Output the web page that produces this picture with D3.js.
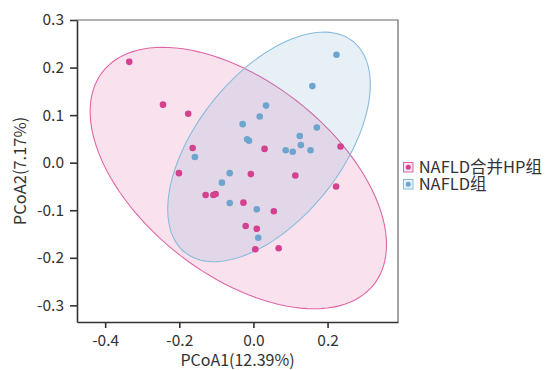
<!DOCTYPE html>
<html>
<head>
<meta charset="utf-8">
<script src="https://cdn.jsdelivr.net/npm/d3@7"></script>
<style>
  html, body { margin: 0; padding: 0; background: #fff; }
  svg { display: block; font-family: "Noto Sans CJK SC", "Noto Sans", sans-serif; }
</style>
</head>
<body>
<svg id="chart" width="550" height="370"></svg>
<script>
// PCoA scores per sample (PCoA1, PCoA2)
const groupNames = ["NAFLD合并HP组", "NAFLD组"];

const hpX = [-0.335, -0.244, -0.176, -0.164, 0.030, 0.235, -0.201, -0.007, 0.113, 0.223,
             -0.129, -0.108, -0.102, -0.027, 0.055, -0.021, 0.009, 0.005, 0.068];
const hpY = [0.212, 0.122, 0.103, 0.031, 0.029, 0.034, -0.022, -0.024, -0.027, -0.050,
             -0.068, -0.068, -0.066, -0.084, -0.102, -0.133, -0.139, -0.182, -0.180];

const nafldX = [0.224, 0.159, 0.034, 0.017, -0.029, 0.171, 0.125, -0.017, -0.012, 0.128,
                0.087, 0.106, 0.154, -0.158, -0.064, -0.085, -0.064, 0.009, 0.013];
const nafldY = [0.227, 0.161, 0.120, 0.097, 0.081, 0.074, 0.056, 0.049, 0.046, 0.037,
                0.026, 0.023, 0.026, 0.012, -0.022, -0.042, -0.085, -0.098, -0.158];

const xTickValues = [-0.4, -0.2, 0.0, 0.2];
const xTickLabels = ["-0.4", "-0.2", "0.0", "0.2"];
const yTickValues = [0.3, 0.2, 0.1, 0.0, -0.1, -0.2, -0.3];
const yTickLabels = ["0.3", "0.2", "0.1", "0.0", "-0.1", "-0.2", "-0.3"];

const xTitle = "PCoA1(12.39%)";
const yTitle = "PCoA2(7.17%)";

const confLevel = 0.95;

// ---- layout ----
const svg = d3.select("#chart");
const plot = { left: 77, right: 398, top: 20, bottom: 322 };

const x = d3.scaleLinear().domain([-0.476, 0.39]).range([plot.left, plot.right]);
const y = d3.scaleLinear().domain([-0.335, 0.30]).range([plot.bottom, plot.top]);

const groups = [
  { name: groupNames[0], xs: hpX, ys: hpY, point: "#d4428f", stroke: "#de66a6", fill: "rgb(220,80,150)" },
  { name: groupNames[1], xs: nafldX, ys: nafldY, point: "#6ea5cf", stroke: "#88bcdb", fill: "rgb(110,165,205)" }
];

// Confidence ellipse from sample mean/covariance, radius sqrt(2 * F(level; 2, n-1))
function ellipsePoints(xs, ys, level, segments) {
  const n = xs.length;
  const mx = d3.mean(xs), my = d3.mean(ys);
  let sxx = 0, syy = 0, sxy = 0;
  for (let i = 0; i < n; i++) {
    const dx = xs[i] - mx, dy = ys[i] - my;
    sxx += dx * dx; syy += dy * dy; sxy += dx * dy;
  }
  sxx /= (n - 1); syy /= (n - 1); sxy /= (n - 1);
  const d2 = n - 1;
  const fq = (d2 / 2) * (Math.pow(1 - level, -2 / d2) - 1); // F quantile with 2 numerator df
  const radius = Math.sqrt(2 * fq);
  // eigen decomposition of the 2x2 covariance
  const tr = sxx + syy, det = sxx * syy - sxy * sxy;
  const disc = Math.sqrt(Math.max(tr * tr / 4 - det, 0));
  const l1 = tr / 2 + disc, l2 = tr / 2 - disc;
  const theta = Math.atan2(l1 - sxx, sxy);
  const a = radius * Math.sqrt(l1), b = radius * Math.sqrt(Math.max(l2, 0));
  const pts = [];
  for (let k = 0; k <= segments; k++) {
    const t = (2 * Math.PI * k) / segments;
    const ex = a * Math.cos(t), ey = b * Math.sin(t);
    pts.push([mx + ex * Math.cos(theta) - ey * Math.sin(theta),
              my + ex * Math.sin(theta) + ey * Math.cos(theta)]);
  }
  return pts;
}

const clipId = "plot-clip";
svg.append("defs").append("clipPath").attr("id", clipId)
  .append("rect")
  .attr("x", plot.left).attr("y", plot.top)
  .attr("width", plot.right - plot.left).attr("height", plot.bottom - plot.top);

const lineGen = d3.line().x(d => x(d[0])).y(d => y(d[1])).curve(d3.curveLinearClosed);

const layer = svg.append("g").attr("clip-path", `url(#${clipId})`);

// ellipses
groups.forEach(g => {
  layer.append("path")
    .attr("d", lineGen(ellipsePoints(g.xs, g.ys, confLevel, 120)))
    .attr("fill", g.fill)
    .attr("fill-opacity", 0.17)
    .attr("stroke", g.stroke)
    .attr("stroke-width", 1.1);
});

// sample points
groups.forEach(g => {
  layer.append("g").selectAll("circle")
    .data(d3.range(g.xs.length))
    .join("circle")
    .attr("cx", i => x(g.xs[i]))
    .attr("cy", i => y(g.ys[i]))
    .attr("r", 3.3)
    .attr("fill", g.point);
});

// panel border (top & right)
svg.append("path")
  .attr("d", `M${plot.left},${plot.top}H${plot.right}V${plot.bottom}`)
  .attr("fill", "none")
  .attr("stroke", "#666")
  .attr("stroke-width", 1.2);

// axes
const xAxis = d3.axisBottom(x)
  .tickValues(xTickValues)
  .tickFormat((d, i) => xTickLabels[i])
  .tickSize(6).tickSizeOuter(0).tickPadding(7);
const yAxis = d3.axisLeft(y)
  .tickValues(yTickValues)
  .tickFormat((d, i) => yTickLabels[i])
  .tickSize(7).tickSizeOuter(0).tickPadding(6);

const gx = svg.append("g").attr("transform", `translate(0,${plot.bottom})`).call(xAxis);
const gy = svg.append("g").attr("transform", `translate(${plot.left},0)`).call(yAxis);

[gx, gy].forEach(g => {
  g.select(".domain").attr("stroke", "#333").attr("stroke-width", 1.6);
  g.selectAll(".tick line").attr("stroke", "#333").attr("stroke-width", 1.6);
  g.selectAll(".tick text")
    .attr("fill", "#333")
    .style("font-size", "15.5px")
    .style("font-family", '"Noto Sans CJK SC", "Noto Sans", sans-serif');
});

// axis titles
svg.append("text")
  .attr("x", (plot.left + plot.right) / 2)
  .attr("y", 366)
  .attr("text-anchor", "middle")
  .attr("fill", "#333")
  .style("font-size", "16px")
  .text(xTitle);

svg.append("text")
  .attr("transform", `translate(25.5,${(plot.top + plot.bottom) / 2}) rotate(-90)`)
  .attr("text-anchor", "middle")
  .attr("fill", "#333")
  .style("font-size", "16.5px")
  .text(yTitle);

// legend
const legend = svg.append("g").attr("transform", "translate(403,162)");
groups.forEach((g, i) => {
  const row = legend.append("g").attr("transform", `translate(0,${i * 17})`);
  row.append("rect")
    .attr("x", 0.5).attr("y", 0.5)
    .attr("width", 9.5).attr("height", 9.5)
    .attr("fill", g.fill).attr("fill-opacity", 0.17)
    .attr("stroke", g.stroke).attr("stroke-width", 1);
  row.append("circle")
    .attr("cx", 5.25).attr("cy", 5.25).attr("r", 2.5)
    .attr("fill", g.point);
  row.append("text")
    .attr("x", 15.7).attr("y", 11.2)
    .attr("fill", "#333")
    .style("font-size", "16.5px")
    .text(g.name);
});
</script>
</body>
</html>
